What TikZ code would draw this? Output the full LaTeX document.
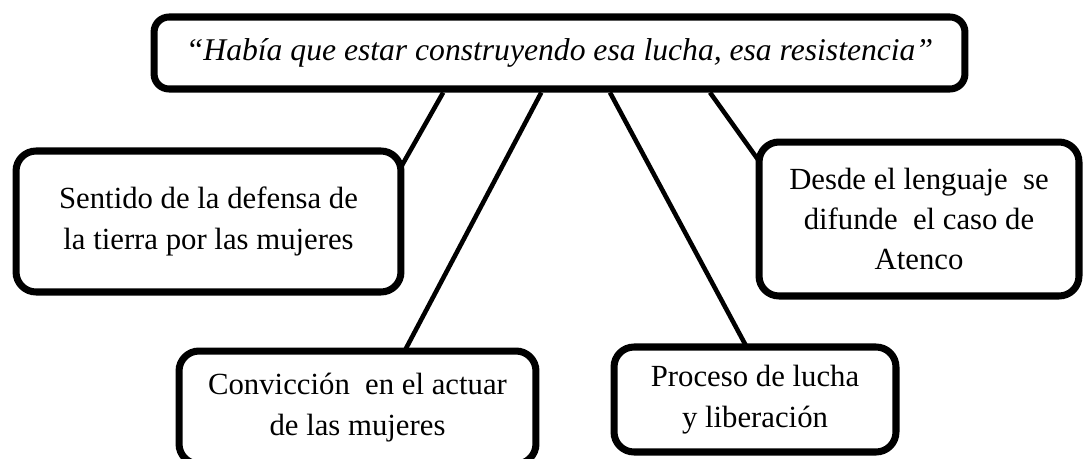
\documentclass[tikz,border=0pt]{standalone}
\usepackage{fontspec}
\setmainfont{Liberation Serif}
\usetikzlibrary{calc,backgrounds}

\tikzset{
  caja/.style={draw, line width=4pt, rounded corners=0.4cm, fill=white, align=center,
    inner sep=0pt, font=\fontsize{17.5}{23}\selectfont},
  enlace/.style={line width=2.6pt},
}

\begin{document}
\begin{tikzpicture}[x=0.02cm,y=-0.02cm]
\useasboundingbox (0,0) rectangle (1087,459);
\clip (0,0) rectangle (1087,459);

% cita central
\node[caja, minimum width=16.22cm, minimum height=1.44cm, rounded corners=0.3cm,
  font=\fontsize{18}{22}\selectfont\itshape] (cita) at (559.5,53)
  {“Había que estar construyendo esa lucha, esa resistencia”};

% categorias
\node[caja, minimum width=7.7cm, minimum height=2.82cm] (tierra) at (208.5,221.5)
  {Sentido de la defensa de\\la tierra por las mujeres};
\node[caja, minimum width=6.4cm, minimum height=3.08cm] (lenguaje) at (919,219)
  {Desde el lenguaje\ \ se\\difunde\ \ el caso de\\Atenco};
\node[caja, minimum width=7.14cm, minimum height=2.26cm] (conviccion) at (357.5,407.5)
  {Convicción\ \ en el actuar\\de las mujeres};
\node[caja, minimum width=5.64cm, minimum height=2.1cm] (proceso) at (755,399.5)
  {Proceso de lucha\\y liberación};

% lineas
\begin{scope}[on background layer]
  \draw[enlace] ($(cita.south west)+(292.6,0)$) -- ($(tierra.north east)+(-6,24)$);
  \draw[enlace] ($(cita.south west)+(390.7,0)$) -- ($(conviccion.north)+(43.7,10)$);
  \draw[enlace] ($(cita.south west)+(459.4,0)$) -- ($(proceso.north)+(-4.9,10)$);
  \draw[enlace] ($(cita.south west)+(559.4,0)$) -- ($(lenguaje.north west)+(11,33)$);
\end{scope}
\end{tikzpicture}
\end{document}
